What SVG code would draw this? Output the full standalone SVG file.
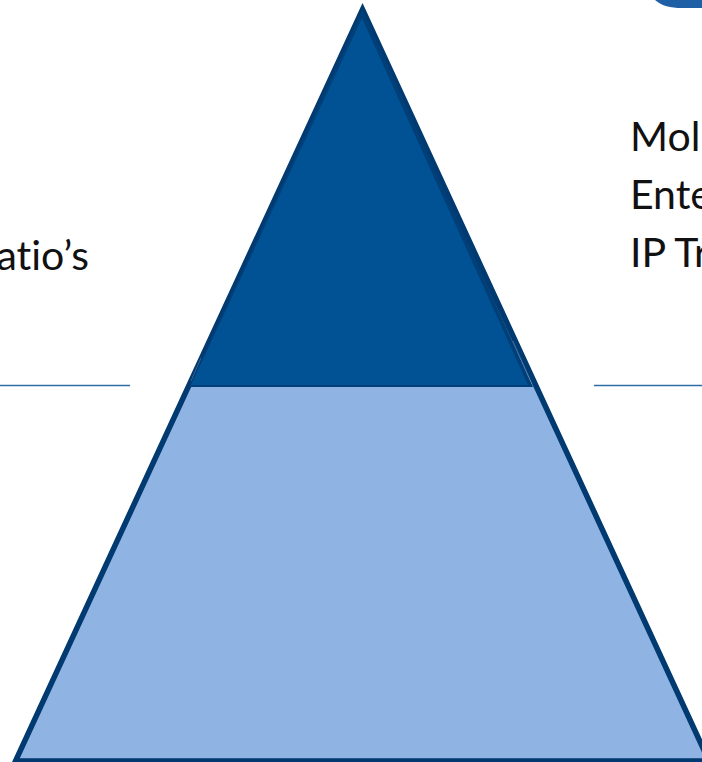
<svg xmlns="http://www.w3.org/2000/svg" width="702" height="762" viewBox="0 0 702 762">
<style>
.t{font-family:"Lato","Open Sans",sans-serif;font-size:41px;font-variant-ligatures:none;fill:#111}
.r{stroke:#2e6da4;stroke-width:1.5;fill:none}
.seam{stroke:#7f9fc4;stroke-width:1;fill:none;opacity:.4}
</style>
<rect width="702" height="762" fill="#fff"/>
<g id="pyramid-base"><polygon points="362.500,9.500 709,761 15.500,761" fill="#8fb3e3" stroke="#003a70" stroke-width="5.500"/></g>
<g id="pyramid-top"><polygon points="362.500,9.500 533,387 189,387" fill="#003f78"/>
<polygon points="362,18 528,385 191,385" fill="#015294"/>
<path d="M201,358 191,381M513,341 532,384" class="seam"/></g>
<g id="connectors"><path class="r" d="M0,385.500H130"/><path class="r" d="M594,385.500H702"/></g>
<g id="logo"><path d="M655,0C662,6 670,8 682,8H702V0Z" fill="#1f5fa6"/></g>
<g id="label-left"><text class="t" x="89" y="270" text-anchor="end">atio’s</text></g>
<g id="label-right"><text class="t" x="630" y="151">Mol</text><text class="t" x="630" y="209">Ente</text><text class="t" x="630" y="267">IP Tr</text></g>
</svg>
